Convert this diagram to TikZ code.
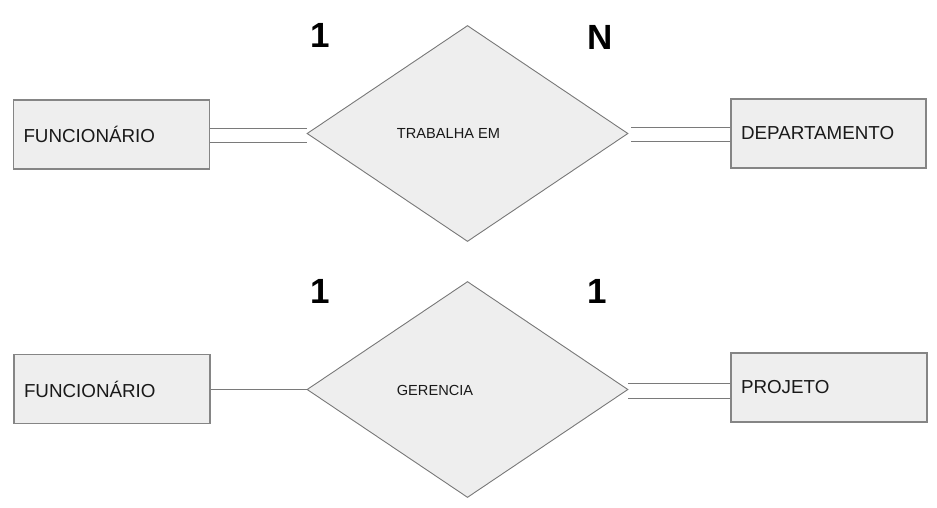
\documentclass[tikz,border=0pt]{standalone}
\usepackage{fontspec}
\setmainfont{Liberation Sans}
\usetikzlibrary{shapes.geometric,calc}
\definecolor{boxfill}{HTML}{EEEEEE}
\definecolor{boxline}{HTML}{858585}
\definecolor{linkline}{HTML}{7A7A7A}
\tikzset{
  entity/.style={draw=boxline, line width=1.1pt, fill=boxfill, rectangle,
    minimum height=69pt, text width=176pt, inner xsep=10pt, inner ysep=0pt,
    align=left, font=\fontsize{18.8}{20}\selectfont, text=black!90},
  relation/.style={draw=boxline!90!black, line width=0.9pt, fill=boxfill, diamond,
    minimum width=321pt, minimum height=216pt, inner sep=0pt},
  rellabel/.style={font=\fontsize{14.6}{16}\selectfont, text=black!90, inner sep=0pt},
  card/.style={font=\bfseries\fontsize{35}{38}\selectfont, inner sep=0pt},
  link/.style={draw=linkline, line width=1pt}
}
\begin{document}
\begin{tikzpicture}[x=1pt,y=-1pt]
\useasboundingbox (0,0) rectangle (937,507);
% top row
\node[entity] (f1) at (111.5,134.5) {FUNCIONÁRIO};
\node[entity, text width=175pt] (dep) at (828.5,133.5) {DEPARTAMENTO};
\node[relation] (r1) at (467.5,133.5) {};
\node[rellabel] (t1) at (448.5,133) {TRABALHA EM};
\node[card] (c1) at (320,35) {1};
\node[card] (c2) at (600,37) {N};
% bottom row
\node[entity] (f2) at (112,389) {FUNCIONÁRIO};
\node[entity, text width=176pt] (proj) at (829,387.5) {PROJETO};
\node[relation] (r2) at (467.5,389.5) {};
\node[rellabel] (t2) at (435,390) {GERENCIA};
\node[card] (c3) at (320,291) {1};
\node[card] (c4) at (597,291) {1};
% connectors top-left (double)
\coordinate (a1) at ([yshift=6.5pt]f1.east);
\coordinate (a2) at ([yshift=-7.5pt]f1.east);
\draw[link] (a1) -- (a1 -| r1.west);
\draw[link] (a2) -- (a2 -| r1.west);
% connectors top-right (double)
\coordinate (b1) at ([yshift=6.5pt]dep.west);
\coordinate (b2) at ([yshift=-7.5pt]dep.west);
\draw[link] (b1) -- ([xshift=3pt]b1 -| r1.east);
\draw[link] (b2) -- ([xshift=3pt]b2 -| r1.east);
% bottom-left (single)
\draw[link] (f2.east) -- (f2.east -| r2.west);
% bottom-right (double)
\coordinate (p1) at ([yshift=4.5pt]proj.west);
\coordinate (p2) at ([yshift=-10.5pt]proj.west);
\draw[link] (p1) -- (p1 -| r2.east);
\draw[link] (p2) -- (p2 -| r2.east);
\end{tikzpicture}
\end{document}
